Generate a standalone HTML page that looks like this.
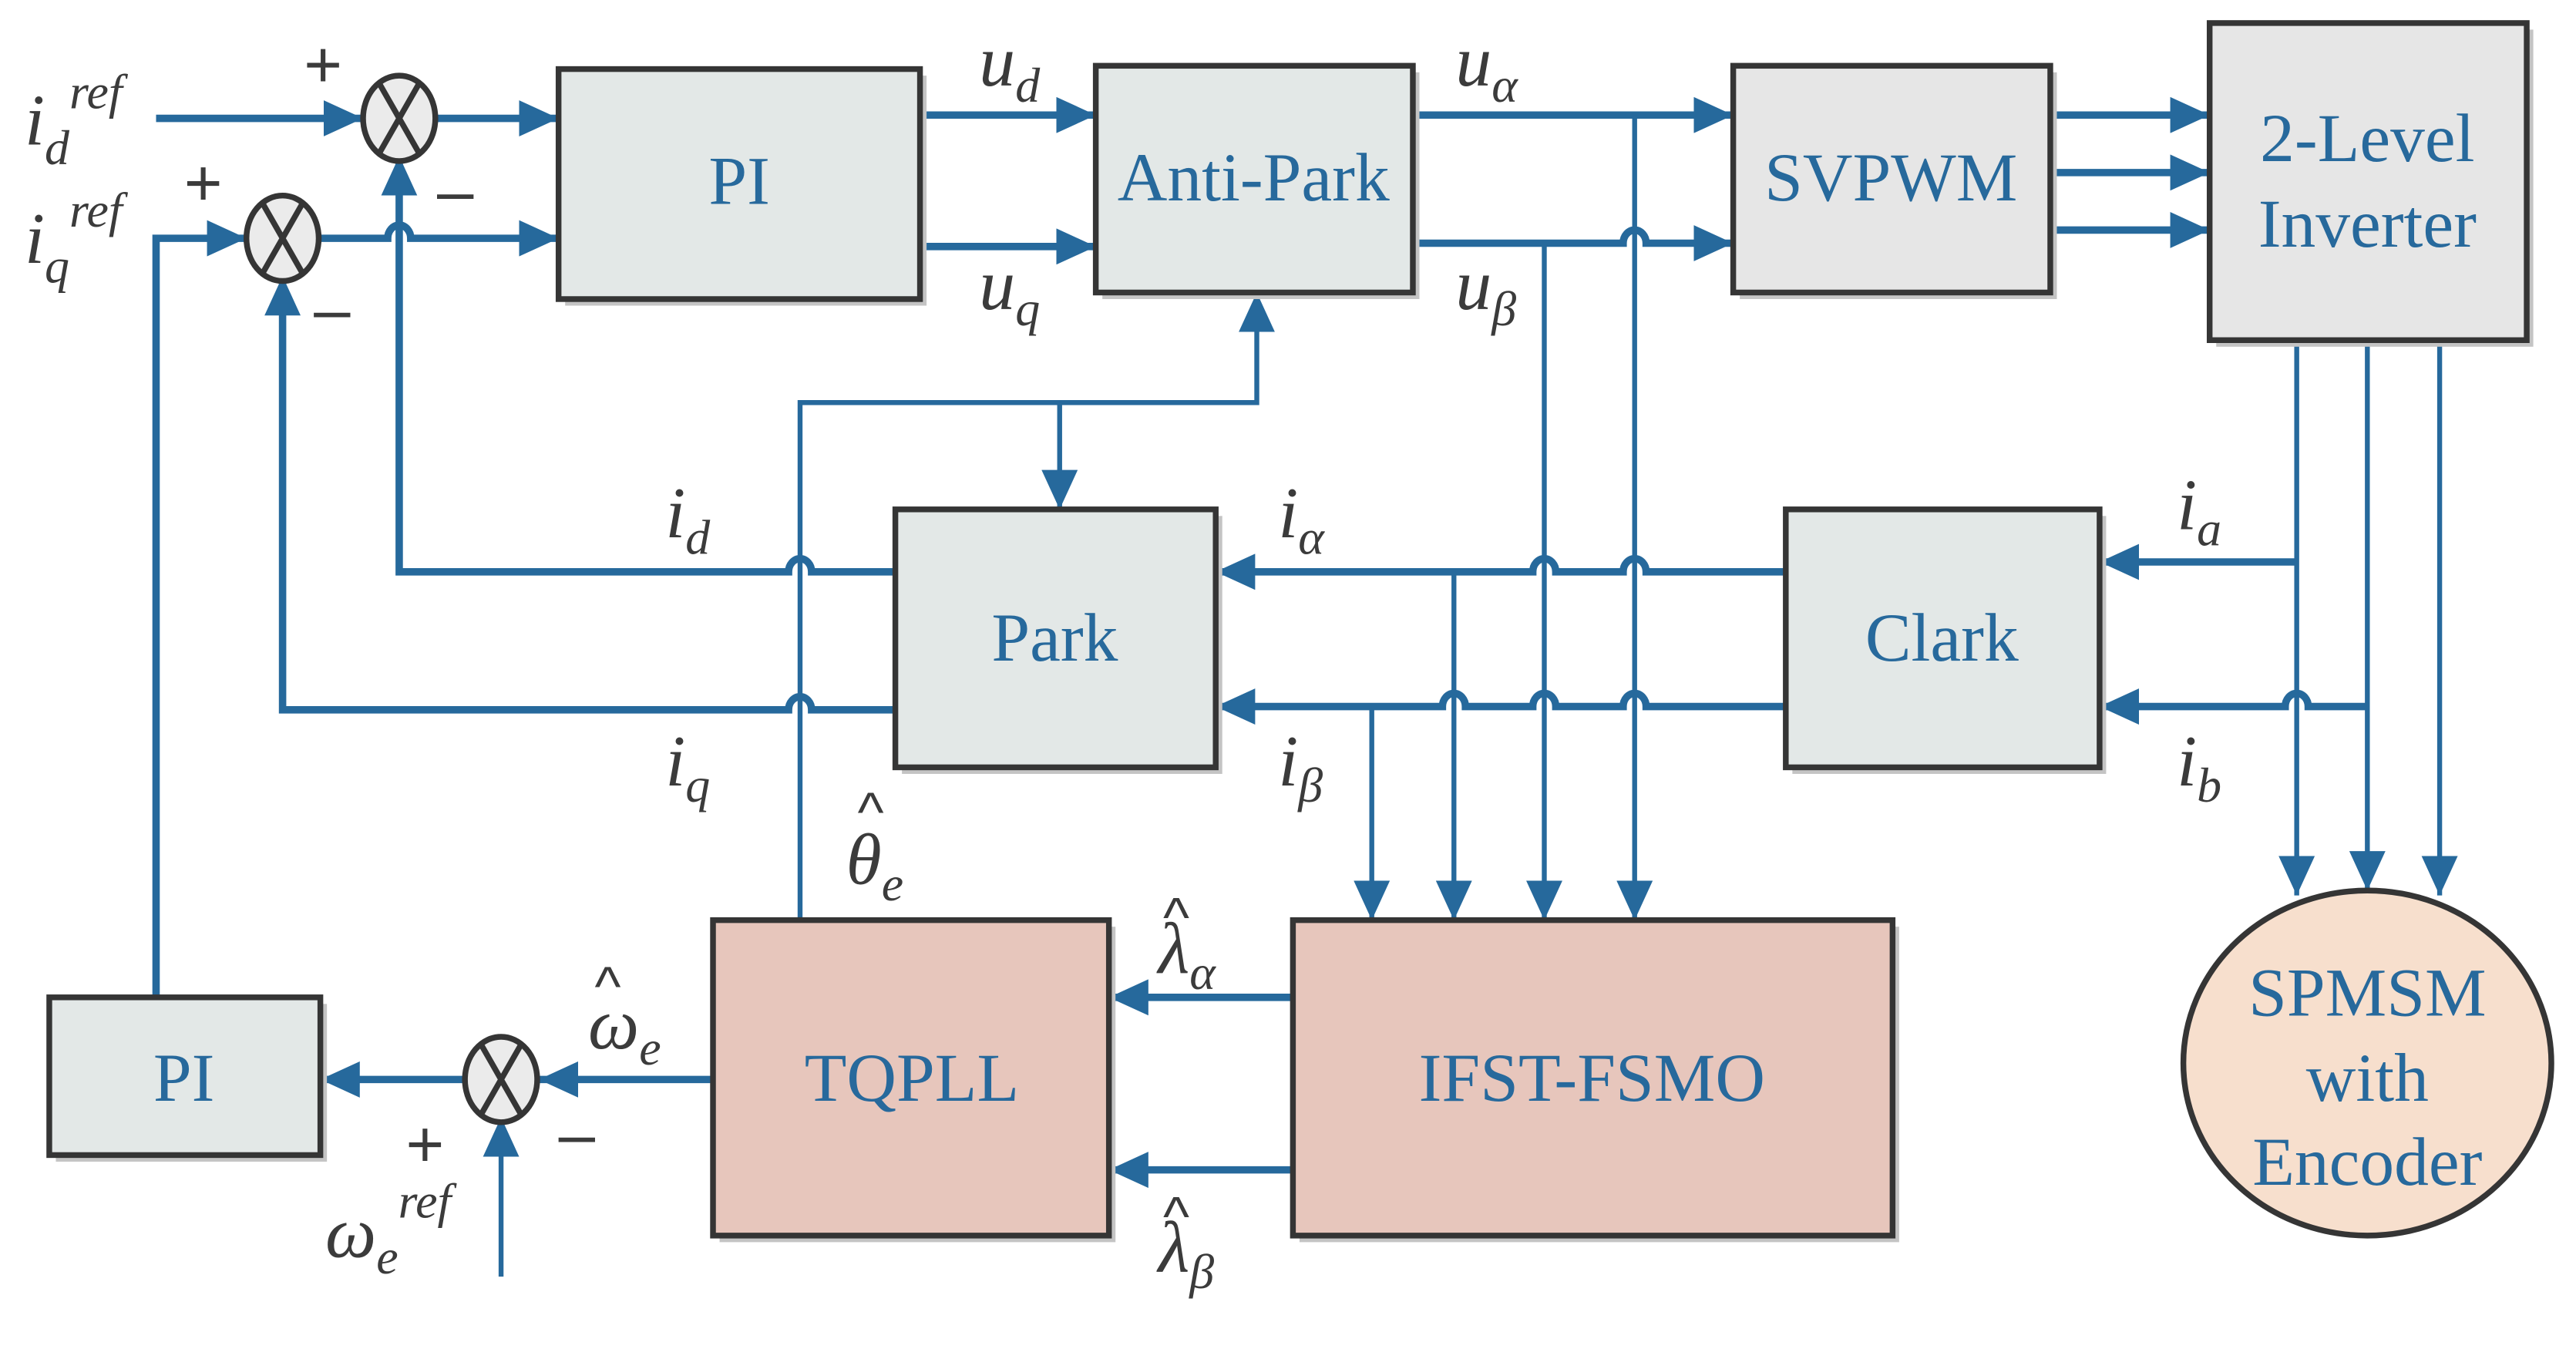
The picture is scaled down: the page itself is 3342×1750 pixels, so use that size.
<!DOCTYPE html>
<html><head><meta charset="utf-8"><style>
html,body{margin:0;padding:0;background:#fff;}
svg{display:block;}
.b{font-family:"Liberation Serif",serif;fill:#27699c;font-size:42px;text-anchor:middle;}
.l{font-family:"Liberation Serif",serif;fill:#3b3b3b;font-style:italic;font-size:44px;}
.s{font-size:30px;}
.h{font-family:"Liberation Sans",sans-serif;fill:#3b3b3b;font-size:34px;}
.pm{font-family:"Liberation Sans",sans-serif;fill:#3b3b3b;font-size:40px;}
</style></head><body>
<svg width="3342" height="1750" viewBox="0 0 1568 821" xmlns="http://www.w3.org/2000/svg">
<defs>
<marker id="a" markerUnits="userSpaceOnUse" viewBox="0 0 24 22" markerWidth="24" markerHeight="22" refX="24" refY="11" orient="auto">
<path d="M0,0 L24,11 L0,22 z" fill="#26699c"/></marker>
</defs>
<g fill="none" stroke="#26699c" stroke-width="4.5">
<path d="M95,72 H221" marker-end="url(#a)"/>
<path d="M266,72 H340" marker-end="url(#a)"/>
<path d="M95,607 V145 H150" marker-end="url(#a)"/>
<path d="M195,145 H236 a7,8 0 0 1 14,0 H340" marker-end="url(#a)"/>
<path d="M560,70 H667" marker-end="url(#a)"/>
<path d="M560,150 H667" marker-end="url(#a)"/>
<path d="M860,70 H1055" marker-end="url(#a)"/>
<path d="M860,148 H988 a7,8 0 0 1 14,0 H1055" marker-end="url(#a)"/>
<path d="M1248,70 H1345" marker-end="url(#a)"/>
<path d="M1248,105 H1345" marker-end="url(#a)"/>
<path d="M1248,140 H1345" marker-end="url(#a)"/>
<path d="M1398,342 H1278" marker-end="url(#a)"/>
<path d="M1441,430 H1405 a7,8 0 0 0 -14,0 H1278" marker-end="url(#a)"/>
<path d="M1087,348 H1002 a7,8 0 0 0 -14,0 H947 a7,8 0 0 0 -14,0 H740" marker-end="url(#a)"/>
<path d="M1087,430 H1002 a7,8 0 0 0 -14,0 H947 a7,8 0 0 0 -14,0 H892 a7,8 0 0 0 -14,0 H740" marker-end="url(#a)"/>
<path d="M545,348 H494 a7,8 0 0 0 -14,0 H243 V95" marker-end="url(#a)"/>
<path d="M545,432 H494 a7,8 0 0 0 -14,0 H172 V168" marker-end="url(#a)"/>
<path d="M787,607 H675" marker-end="url(#a)"/>
<path d="M787,712 H675" marker-end="url(#a)"/>
<path d="M434,657 H328" marker-end="url(#a)"/>
<path d="M283,657 H195" marker-end="url(#a)"/>
</g>
<g fill="none" stroke="#26699c" stroke-width="3">
<path d="M995,70 V560" marker-end="url(#a)"/>
<path d="M940,148 V560" marker-end="url(#a)"/>
<path d="M885,348 V560" marker-end="url(#a)"/>
<path d="M835,430 V560" marker-end="url(#a)"/>
<path d="M1398,207 V545" marker-end="url(#a)"/>
<path d="M1441,207 V542" marker-end="url(#a)"/>
<path d="M1485,207 V545" marker-end="url(#a)"/>
<path d="M487,560 V245 H765 V178" marker-end="url(#a)"/>
<path d="M645,245 V310" marker-end="url(#a)"/>
<path d="M305,777 V680" marker-end="url(#a)"/>
</g>
<g stroke="#353535" stroke-width="3.5">
<rect x="344" y="46" width="220" height="140" fill="#c4c4c4" stroke="none"/>
<rect x="340" y="42" width="220" height="140" fill="#e3e8e7"/>
<rect x="671" y="44" width="193" height="138" fill="#c4c4c4" stroke="none"/>
<rect x="667" y="40" width="193" height="138" fill="#e3e8e7"/>
<rect x="1059" y="44" width="193" height="138" fill="#c4c4c4" stroke="none"/>
<rect x="1055" y="40" width="193" height="138" fill="#e6e6e6"/>
<rect x="1349" y="18" width="193" height="193" fill="#c4c4c4" stroke="none"/>
<rect x="1345" y="14" width="193" height="193" fill="#e6e6e6"/>
<rect x="549" y="314" width="195" height="157" fill="#c4c4c4" stroke="none"/>
<rect x="545" y="310" width="195" height="157" fill="#e3e8e7"/>
<rect x="1091" y="314" width="191" height="157" fill="#c4c4c4" stroke="none"/>
<rect x="1087" y="310" width="191" height="157" fill="#e3e8e7"/>
<rect x="438" y="564" width="241" height="192" fill="#c4c4c4" stroke="none"/>
<rect x="434" y="560" width="241" height="192" fill="#e7c6bc"/>
<rect x="791" y="564" width="365" height="192" fill="#c4c4c4" stroke="none"/>
<rect x="787" y="560" width="365" height="192" fill="#e7c6bc"/>
<rect x="34" y="611" width="165" height="96" fill="#c4c4c4" stroke="none"/>
<rect x="30" y="607" width="165" height="96" fill="#e3e8e7"/>
<ellipse cx="1441" cy="647" rx="112" ry="105" fill="#f7dfcd"/>
</g>
<g stroke="#353535" stroke-width="3.5" fill="#ebebeb">
<ellipse cx="243" cy="72" rx="22" ry="26"/>
<path d="M231,51 L255,93 M255,51 L231,93"/>
<ellipse cx="172" cy="145" rx="22" ry="26"/>
<path d="M160,124 L184,166 M184,124 L160,166"/>
<ellipse cx="305" cy="657" rx="22" ry="26"/>
<path d="M293,636 L317,678 M317,636 L293,678"/>
</g>
<text class="b" x="450" y="124">PI</text>
<text class="b" x="763" y="122">Anti-Park</text>
<text class="b" x="1151" y="122">SVPWM</text>
<text class="b" x="1441" y="98">2-Level</text>
<text class="b" x="1441" y="150">Inverter</text>
<text class="b" x="642" y="402">Park</text>
<text class="b" x="1182" y="402">Clark</text>
<text class="b" x="555" y="670">TQPLL</text>
<text class="b" x="969" y="670">IFST-FSMO</text>
<text class="b" x="112" y="670">PI</text>
<text class="b" x="1441" y="618">SPMSM</text>
<text class="b" x="1441" y="670">with</text>
<text class="b" x="1441" y="721">Encoder</text>
<text class="pm" x="185" y="53">+</text>
<text class="pm" x="266" y="130">–</text>
<text class="pm" x="112" y="125">+</text>
<text class="pm" x="191" y="202">–</text>
<text class="pm" x="247" y="710">+</text>
<text class="pm" x="340" y="704">–</text>
<text class="l" x="15" y="88">i<tspan class="s" dy="12">d</tspan><tspan class="s" dy="-34">ref</tspan></text>
<text class="l" x="15" y="160">i<tspan class="s" dy="12">q</tspan><tspan class="s" dy="-34">ref</tspan></text>
<text class="l" x="596" y="52">u<tspan class="s" dy="10">d</tspan></text>
<text class="l" x="596" y="188">u<tspan class="s" dy="10">q</tspan></text>
<text class="l" x="886" y="52">u<tspan class="s" dy="10">α</tspan></text>
<text class="l" x="886" y="188">u<tspan class="s" dy="10">β</tspan></text>
<text class="l" x="405" y="327">i<tspan class="s" dy="10">d</tspan></text>
<text class="l" x="405" y="478">i<tspan class="s" dy="10">q</tspan></text>
<text class="l" x="778" y="327">i<tspan class="s" dy="10">α</tspan></text>
<text class="l" x="778" y="478">i<tspan class="s" dy="10">β</tspan></text>
<text class="l" x="1325" y="322">i<tspan class="s" dy="10">a</tspan></text>
<text class="l" x="1325" y="478">i<tspan class="s" dy="10">b</tspan></text>
<text class="l" x="515" y="538">θ<tspan class="s" dy="10">e</tspan></text>
<text class="h" x="522" y="506">^</text>
<text class="l" x="705" y="592">λ<tspan class="s" dy="10">α</tspan></text>
<text class="h" x="708" y="570">^</text>
<text class="l" x="705" y="774">λ<tspan class="s" dy="10">β</tspan></text>
<text class="h" x="708" y="752">^</text>
<text class="l" x="358" y="638">ω<tspan class="s" dy="10">e</tspan></text>
<text class="h" x="362" y="612">^</text>
<text class="l" x="198" y="765">ω<tspan class="s" dy="10">e</tspan><tspan class="s" dy="-34">ref</tspan></text>
</svg>
</body></html>
